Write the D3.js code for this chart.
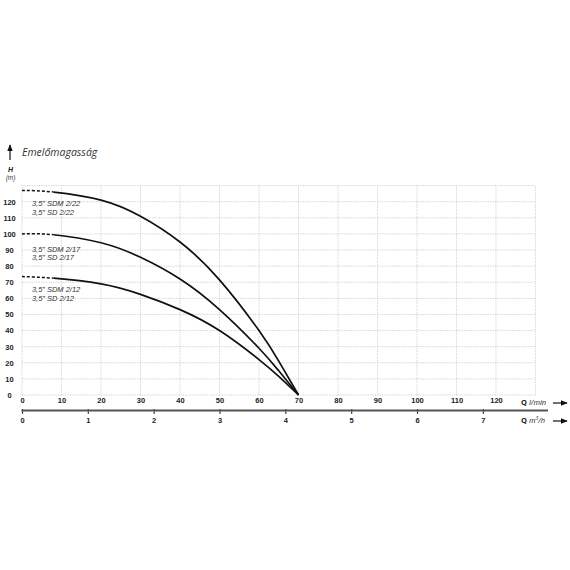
<!DOCTYPE html>
<html>
<head>
<meta charset="utf-8">
<script src="https://cdn.jsdelivr.net/npm/d3@7"></script>
<style>
  body { margin: 0; background: #fff; }
  svg { display: block; font-family: "Open Sans", sans-serif; }
</style>
</head>
<body>
<svg id="chart" width="570" height="570"></svg>
<script>
// flow in l/min, head in m
const qTicks = [0, 10, 20, 30, 40, 50, 60, 70, 80, 90, 100, 110, 120];
const qGrid = [0, 10, 20, 30, 40, 50, 60, 70, 80, 90, 100, 110, 120, 130];
const hTicks = [0, 10, 20, 30, 40, 50, 60, 70, 80, 90, 100, 110, 120];
const hGrid = [0, 10, 20, 30, 40, 50, 60, 70, 80, 90, 100, 110, 120, 130];
const m3Ticks = [0, 1, 2, 3, 4, 5, 6, 7];

const pumps = ["2/22", "2/17", "2/12"];
const curve222 = [[0, 127], [8, 126], [20, 121], [30, 111], [40, 95], [50, 71.5], [60, 40], [65, 21], [70, 0]];
const curve217 = [[0, 100], [8, 99.5], [20, 94.5], [30, 85.5], [40, 72], [50, 53], [60, 29], [65, 15], [70, 0]];
const curve212 = [[0, 73.5], [8, 72.5], [20, 69], [30, 62.5], [40, 53], [50, 40], [60, 22], [65, 11.5], [70, 0]];
const curves = [curve222, curve217, curve212];
const dashEnd = 8; // dashed part from Q=0 up to here
const labelH = [118.3, 90.3, 64.9]; // first label line of each pump

const svg = d3.select("#chart");

const x = d3.scaleLinear().domain([0, 130]).range([22, 535.5]);
const y = d3.scaleLinear().domain([0, 130]).range([395, 185.6]);
const m3 = d => x(d * 1000 / 60);

// dotted grid
const grid = svg.append("g").attr("stroke", "#c4c4c4").attr("stroke-width", 0.8)
  .attr("stroke-dasharray", "1.2,1.2");
grid.selectAll(".vg").data(qGrid).join("line")
  .attr("x1", d => x(d)).attr("x2", d => x(d))
  .attr("y1", y(0)).attr("y2", y(130));
grid.selectAll(".hg").data(hGrid).join("line")
  .attr("x1", x(0)).attr("x2", x(130))
  .attr("y1", d => y(d)).attr("y2", d => y(d));

// H labels
const yAxis = svg.append("g")
  .attr("transform", "translate(16,0)")
  .call(d3.axisLeft(y).tickValues(hTicks).tickSize(0).tickPadding(0));
yAxis.select(".domain").remove();
yAxis.selectAll("text")
  .attr("text-anchor", "middle").attr("x", -6.5)
  .style("font-size", "7.5px").style("font-weight", "bold").attr("fill", "#222");

// l/min labels
const qAxis = svg.append("g")
  .attr("transform", "translate(0,398)")
  .call(d3.axisBottom(x).tickValues(qTicks).tickSize(0).tickPadding(0));
qAxis.select(".domain").remove();
qAxis.selectAll("text")
  .style("font-size", "7.5px").style("font-weight", "bold").attr("fill", "#222");

// m3/h axis
const m3Axis = svg.append("g")
  .attr("transform", "translate(0,410.5)")
  .call(d3.axisBottom(d3.scaleLinear().domain([0, 7]).range([m3(0), m3(7)]))
    .tickValues(m3Ticks).tickSize(3.5).tickPadding(4).tickFormat(d3.format("d")));
m3Axis.select(".domain").remove();
m3Axis.selectAll(".tick line").attr("stroke", "#444").attr("stroke-width", 1.2).attr("y1", -1.5);
m3Axis.selectAll("text")
  .style("font-size", "7.5px").style("font-weight", "bold").attr("fill", "#222");
svg.append("line")
  .attr("x1", x(0) - 0.5).attr("x2", 548)
  .attr("y1", 410.5).attr("y2", 410.5)
  .attr("stroke", "#555").attr("stroke-width", 1.8);

// clips: dashed before dashEnd, solid after
const defs = svg.append("defs");
defs.append("clipPath").attr("id", "clipDash").append("rect")
  .attr("x", 0).attr("y", 0).attr("width", x(dashEnd)).attr("height", 570);
defs.append("clipPath").attr("id", "clipSolid").append("rect")
  .attr("x", x(dashEnd)).attr("y", 0).attr("width", 570).attr("height", 570);

// pump curves
const line = d3.line().x(d => x(d[0])).y(d => y(d[1])).curve(d3.curveNatural);
curves.forEach((c, i) => {
  svg.append("path").datum(c)
    .attr("d", line).attr("fill", "none")
    .attr("clip-path", "url(#clipDash)")
    .attr("stroke", "#111").attr("stroke-width", 1.5)
    .attr("stroke-dasharray", "3,2");
  svg.append("path").datum(c)
    .attr("d", line).attr("fill", "none")
    .attr("clip-path", "url(#clipSolid)")
    .attr("stroke", "#111").attr("stroke-width", 1.7);

  // two-line label, tighter font metrics so the lines don't collide
  const lab = svg.append("text").attr("fill", "#333")
    .attr("x", x(2.5)).attr("y", y(labelH[i]))
    .attr("dominant-baseline", "middle")
    .style("font-family", "'Liberation Sans', sans-serif")
    .style("font-size", "7.5px").style("font-style", "italic");
  lab.append("tspan").attr("x", x(2.5)).text("3,5\u201d SDM " + pumps[i]);
  lab.append("tspan").attr("x", x(2.5)).attr("dy", 8.5).text("3,5\u201d SD " + pumps[i]);
});

// arrow marker
defs.append("marker")
  .attr("id", "ah").attr("viewBox", "0 0 10 10")
  .attr("refX", 9).attr("refY", 5)
  .attr("markerWidth", 7).attr("markerHeight", 7)
  .attr("markerUnits", "userSpaceOnUse")
  .attr("orient", "auto")
  .append("path").attr("d", "M0,1 L10,5 L0,9 Z").attr("fill", "#111");

// axis titles
function qTitle(yPos, unit, sup) {
  const t = svg.append("text").attr("x", 521).attr("y", yPos)
    .attr("dominant-baseline", "middle")
    .style("font-size", "7.5px").attr("fill", "#222");
  t.append("tspan").style("font-weight", "bold").text("Q ");
  t.append("tspan").style("font-style", "italic").text(unit);
  if (sup) {
    t.append("tspan").style("font-style", "italic").style("font-size", "5px")
      .attr("dy", -2.5).text(sup);
    t.append("tspan").style("font-style", "italic").attr("dy", 2.5).text("/h");
  }
  svg.append("line")
    .attr("x1", 553).attr("x2", 567).attr("y1", yPos).attr("y2", yPos)
    .attr("stroke", "#111").attr("stroke-width", 1.2)
    .attr("marker-end", "url(#ah)");
}
qTitle(403, "l/min");
qTitle(421, "m", "3");

// vertical title
svg.append("line")
  .attr("x1", 10).attr("x2", 10).attr("y1", 160).attr("y2", 145)
  .attr("stroke", "#111").attr("stroke-width", 1.2)
  .attr("marker-end", "url(#ah)");
svg.append("text").attr("x", 22).attr("y", 153.5)
  .attr("dominant-baseline", "middle")
  .style("font-size", "10.5px").style("font-style", "italic").attr("fill", "#333")
  .text("Emelőmagasság");
const hLab = svg.append("text").attr("y", 170)
  .attr("text-anchor", "middle").attr("dominant-baseline", "middle")
  .style("font-family", "'Liberation Sans', sans-serif")
  .style("font-style", "italic").attr("fill", "#222");
hLab.append("tspan").attr("x", 10.5)
  .style("font-size", "7px").style("font-weight", "bold").text("H");
hLab.append("tspan").attr("x", 10.5).attr("dy", 7.8)
  .style("font-size", "6.5px").attr("fill", "#333").text("(m)");
</script>
</body>
</html>
